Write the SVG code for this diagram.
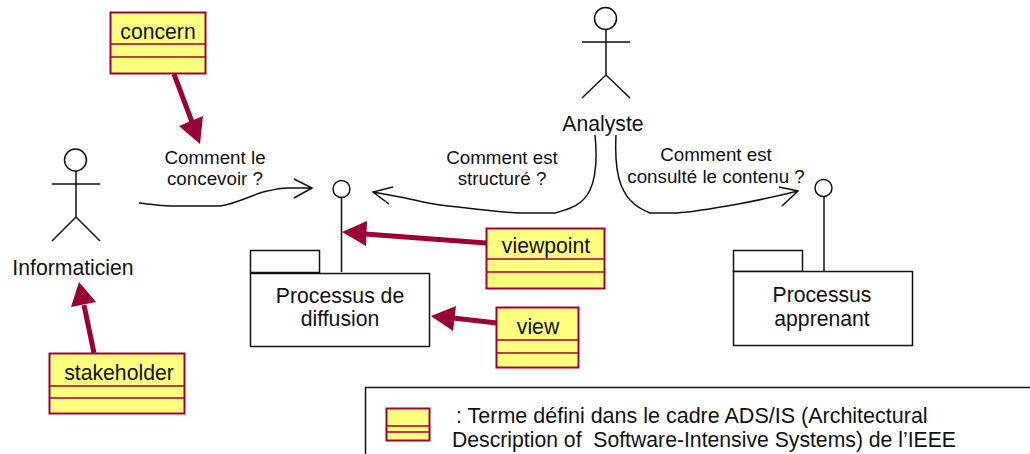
<svg xmlns="http://www.w3.org/2000/svg" width="1030" height="454" viewBox="0 0 1030 454">
<style>
text{font-family:"Liberation Sans",Arial,sans-serif;fill:#111;text-anchor:middle}
.t{font-size:21.200px}.s{font-size:18.800px}.c{font-size:21.200px}
.g{font-size:21.200px;text-anchor:start;white-space:pre}
.k{fill:none;stroke:#111;stroke-width:1.5}
.p{fill:#fff;stroke:#111;stroke-width:1.5}
.y{fill:#ffff80;stroke:#a00038;stroke-width:2}
.l{fill:none;stroke:#a00038;stroke-width:1.5}
.r{stroke:#990033;stroke-width:5;fill:none}
.h{fill:#990033}
</style>
<rect width="1030" height="454" fill="#fff"/>
<g id="connectors">
<path class="k" d="M139 203C150 204 160 206 170 206L220 206C235 204 250 196 263 192C272 190 280 188 287 188L312 188M294 179L312 188L294 198"/>
<path class="k" d="M595 135C597 155 597 175 590 190C583 205 570 209 555 213L520 213C495 212 465 208 440 205C425 203 412 199 400 197L373 192M393 187L373 192L389 204"/>
<path class="k" d="M616 135C615 155 616 172 621 185C628 202 638 208 650 213L677 213C695 212 715 208 733 205C755 201 778 196 798 191M779 187L798 191L782 206"/>
<path class="r" d="M174 74L192 122"/><polygon class="h" points="200,144 179,126 203,116"/>
<path class="r" d="M486 243L365 234"/><polygon class="h" points="342,232 367,221 366,246"/>
<path class="r" d="M497 323L453 318"/><polygon class="h" points="431,316 456,306 453,331"/>
<path class="r" d="M94 353L84 305"/><polygon class="h" points="79,282 96,302 71,307"/>
</g>
<g id="actor-informaticien">
<circle class="k" cx="75.500" cy="160" r="11"/>
<path class="k" d="M52 184H100M76 171V217L52 241M76 217L100 241"/>
<text class="t" x="73" y="275">Informaticien</text>
</g>
<g id="actor-analyste">
<circle class="k" cx="605.500" cy="18.500" r="11"/>
<path class="k" d="M582 42H630M606 29V75L582 98M606 75L630 98"/>
<text class="t" x="603" y="131">Analyste</text>
</g>
<g id="label-concevoir"><text class="s" x="215" y="164">Comment le</text><text class="s" x="215" y="185">concevoir ?</text></g>
<g id="label-structure"><text class="s" x="502" y="164">Comment est</text><text class="s" x="502" y="185">structuré ?</text></g>
<g id="label-consulte"><text class="s" x="716" y="161">Comment est</text><text class="s" x="716" y="183">consulté le contenu ?</text></g>
<g id="concern"><rect class="y" x="110.500" y="12.500" width="95" height="61"/><path class="l" d="M110 44H205M110 57H205"/><text class="c" x="158" y="39">concern</text></g>
<g id="viewpoint"><rect class="y" x="486.500" y="228.500" width="118" height="60"/><path class="l" d="M486 259H604M486 272H604"/><text class="c" x="546" y="253">viewpoint</text></g>
<g id="view"><rect class="y" x="496.500" y="307.500" width="82" height="60"/><path class="l" d="M496 340H578M496 353H578"/><text class="c" x="538" y="334">view</text></g>
<g id="stakeholder"><rect class="y" x="49.500" y="353.500" width="135" height="60"/><path class="l" d="M49 386H184M49 398H184"/><text class="c" x="119" y="380">stakeholder</text></g>
<g id="processus-diffusion">
<circle class="k" cx="341.500" cy="189" r="8.500"/>
<path class="k" d="M341.500 198V272"/>
<rect class="p" x="250.500" y="250.500" width="69" height="22"/>
<rect class="p" x="250.500" y="273.500" width="179" height="73"/>
<text class="t" x="340" y="303">Processus de</text><text class="t" x="340" y="326">diffusion</text>
</g>
<g id="processus-apprenant">
<circle class="k" cx="823.500" cy="188" r="8.500"/>
<path class="k" d="M824 197V271"/>
<rect class="p" x="733.500" y="250.500" width="69" height="21"/>
<rect class="p" x="733.500" y="271.500" width="179" height="74"/>
<text class="t" x="822" y="302">Processus</text><text class="t" x="822" y="326">apprenant</text>
</g>
<g id="legend">
<path class="k" d="M365.500 454V387.500H1030"/>
<rect class="y" x="386.500" y="408.500" width="43" height="32"/><path class="l" d="M386 426H429M386 432H429"/>
<text class="g" x="456" y="423" style="font-size:21.500px">: Terme défini dans le cadre ADS/IS (Architectural</text>
<text class="g" x="452" y="447">Description of  Software-Intensive Systems) de l’IEEE</text>
</g>
</svg>
